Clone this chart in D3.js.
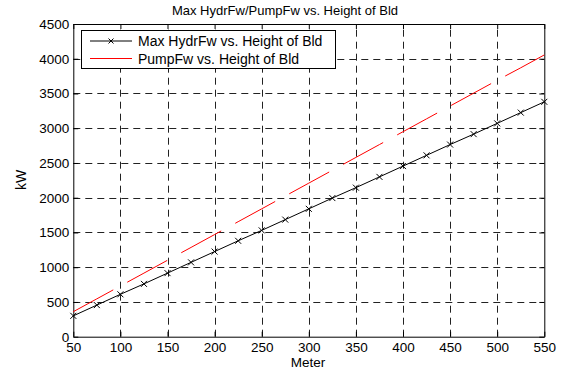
<!DOCTYPE html>
<html>
  <head>
    <meta charset="utf-8" />
    <title>Max HydrFw/PumpFw vs. Height of Bld</title>
    <script src="https://d3js.org/d3.v7.min.js"></script>
    <style>
        body{
            margin: 0;
            background: #fff;
        }
        text{
            font-family: "Liberation Sans", Arial, sans-serif;
        }
    </style>
  </head>
  <body>
    <svg id="vis" width="564" height="369"></svg>

    <script>
        // height of building (m), markers every 25 m
        var heights = [50, 75, 100, 125, 150, 175, 200, 225, 250, 275, 300,
                       325, 350, 375, 400, 425, 450, 475, 500, 525, 550];
        var hydrFw = [300, 455, 610, 760, 915, 1070, 1225, 1380, 1530, 1685, 1840,
                      1995, 2145, 2300, 2455, 2610, 2765, 2915, 3070, 3225, 3380];
        var pumpFw = [360, 545, 730, 915, 1100, 1285, 1470, 1655, 1840, 2025, 2210,
                      2395, 2580, 2765, 2950, 3135, 3320, 3505, 3690, 3870, 4055];
        var xTicks = [50, 100, 150, 200, 250, 300, 350, 400, 450, 500, 550];
        var yTicks = [0, 500, 1000, 1500, 2000, 2500, 3000, 3500, 4000, 4500];
        var seriesNames = ["Max HydrFw vs. Height of Bld", "PumpFw vs. Height of Bld"];

        var svg = d3.select("#vis");
        var pLeft = 73.3, pRight = 544.3, pTop = 24, pBottom = 336.7;

        var x = d3.scaleLinear().domain([50, 550]).range([pLeft, pRight]);
        var y = d3.scaleLinear().domain([0, 4500]).range([pBottom, pTop]);

        // grid
        var grid = svg.append("g").attr("stroke", "#222").attr("stroke-width", 1)
            .attr("stroke-dasharray", "7,5");
        grid.selectAll("line.gx").data(xTicks.slice(1, -1)).enter().append("line")
            .attr("x1", function(d){ return Math.round(x(d)) + 0.5; })
            .attr("x2", function(d){ return Math.round(x(d)) + 0.5; })
            .attr("y1", pBottom).attr("y2", pTop);
        grid.selectAll("line.gy").data(yTicks.slice(1, -1)).enter().append("line")
            .attr("y1", function(d){ return Math.round(y(d)) + 0.5; })
            .attr("y2", function(d){ return Math.round(y(d)) + 0.5; })
            .attr("x1", pLeft).attr("x2", pRight);

        // axes with inward ticks on all sides
        var fmt = d3.format("d");
        var xAxisB = d3.axisBottom(x).tickValues(xTicks).tickFormat(fmt).tickSizeInner(-5).tickSizeOuter(0).tickPadding(6);
        var xAxisT = d3.axisTop(x).tickValues(xTicks).tickSizeInner(-5).tickSizeOuter(0).tickFormat("");
        var yAxisL = d3.axisLeft(y).tickValues(yTicks).tickFormat(fmt).tickSizeInner(-5).tickSizeOuter(0).tickPadding(4);
        var yAxisR = d3.axisRight(y).tickValues(yTicks).tickSizeInner(-5).tickSizeOuter(0).tickFormat("");

        function styleAxis(g){
            g.selectAll("path, line").attr("stroke", "#000");
            g.selectAll("text").attr("font-size", 13.5).attr("fill", "#000")
                .style("font-family", "'Liberation Sans', Arial, sans-serif");
        }
        svg.append("g").attr("transform", "translate(0," + pBottom + ")").call(xAxisB).call(styleAxis);
        svg.append("g").attr("transform", "translate(0," + pTop + ")").call(xAxisT).call(styleAxis);
        svg.append("g").attr("transform", "translate(" + pLeft + ",0)").call(yAxisL).call(styleAxis);
        svg.append("g").attr("transform", "translate(" + pRight + ",0)").call(yAxisR).call(styleAxis);

        var line = d3.line()
            .x(function(d){ return x(d[0]); })
            .y(function(d){ return y(d[1]); });

        var hydr = heights.map(function(h, i){ return [h, hydrFw[i]]; });
        var pump = heights.map(function(h, i){ return [h, pumpFw[i]]; });

        svg.append("path").datum(pump).attr("d", line)
            .attr("fill", "none").attr("stroke", "#ff0000").attr("stroke-width", 1)
            .attr("stroke-dasharray", "45.5,16");

        svg.append("path").datum(hydr).attr("d", line)
            .attr("fill", "none").attr("stroke", "#000").attr("stroke-width", 1);

        function cross(sel, s){
            sel.append("path")
                .attr("d", "M" + (-s) + "," + (-s) + "L" + s + "," + s + "M" + (-s) + "," + s + "L" + s + "," + (-s))
                .attr("stroke", "#000").attr("stroke-width", 1).attr("fill", "none");
        }
        var marks = svg.selectAll("g.mk").data(hydr).enter().append("g")
            .attr("transform", function(d){ return "translate(" + x(d[0]) + "," + y(d[1]) + ")"; });
        cross(marks, 3);

        // legend
        var lg = svg.append("g");
        lg.append("rect").attr("x", 81.5).attr("y", 30.5).attr("width", 254).attr("height", 38)
            .attr("fill", "#fff").attr("stroke", "#000").attr("stroke-width", 1);
        var ly = [41, 58.5];
        lg.append("line").attr("x1", 90).attr("x2", 132).attr("y1", ly[0]).attr("y2", ly[0])
            .attr("stroke", "#000");
        cross(lg.append("g").attr("transform", "translate(111," + ly[0] + ")"), 2.5);
        lg.append("line").attr("x1", 90).attr("x2", 132).attr("y1", ly[1]).attr("y2", ly[1])
            .attr("stroke", "#ff0000");
        lg.selectAll("text.lt").data(seriesNames).enter().append("text")
            .attr("x", 138).attr("y", function(d, i){ return ly[i] + 5; })
            .attr("font-size", 14).text(function(d){ return d; });

        // labels
        svg.append("text").attr("x", 285).attr("y", 15).attr("text-anchor", "middle")
            .attr("font-size", 13).text("Max HydrFw/PumpFw vs. Height of Bld");
        svg.append("text").attr("x", 308).attr("y", 367).attr("text-anchor", "middle")
            .attr("font-size", 13.5).text("Meter");
        svg.append("text").attr("transform", "translate(26,180) rotate(-90)")
            .attr("text-anchor", "middle").attr("font-size", 14).text("kW");
    </script>
  </body>
</html>
